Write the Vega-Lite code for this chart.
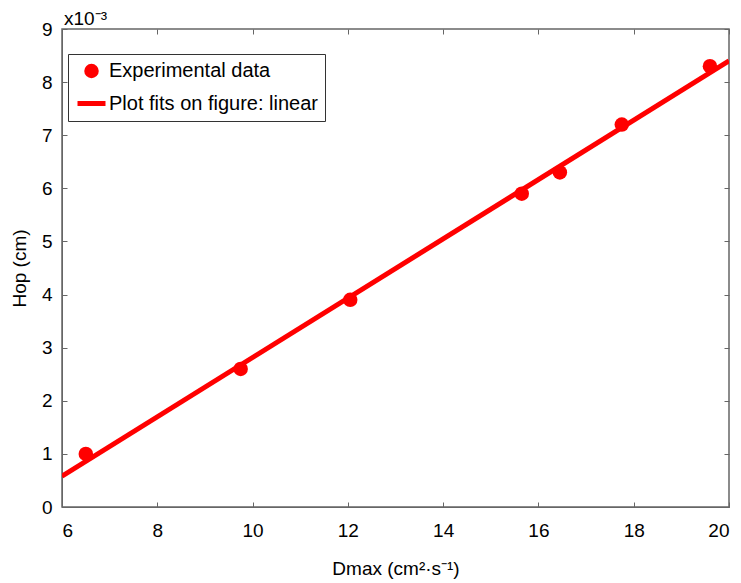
{
  "$schema": "https://vega.github.io/schema/vega-lite/v6.json",
  "width": 667,
  "height": 478,
  "autosize": "none",
  "padding": {"left": 62, "top": 29, "right": 12, "bottom": 76},
  "background": "white",
  "config": {
    "font": "Liberation Sans",
    "view": {"stroke": "#666666", "strokeWidth": 1.5},
    "axis": {
      "grid": false,
      "domainColor": "#666666",
      "tickColor": "#666666",
      "tickSize": -5,
      "labelFontSize": 19,
      "labelColor": "black",
      "titleFontSize": 19,
      "titleFontWeight": "normal",
      "titleColor": "black",
      "labelFont": "Liberation Sans",
      "titleFont": "Liberation Sans"
    }
  },
  "title": {
    "text": "x10⁻³",
    "anchor": "start",
    "frame": "group",
    "fontSize": 19,
    "fontWeight": "normal",
    "font": "Liberation Sans",
    "offset": 0,
    "dy": 9,
    "dx": 2
  },
  "datasets": {
    "pts": [
      {"dmax": 6.5, "hop": 1.0, "series": "Experimental data"},
      {"dmax": 9.75, "hop": 2.6, "series": "Experimental data"},
      {"dmax": 12.05, "hop": 3.9, "series": "Experimental data"},
      {"dmax": 15.65, "hop": 5.9, "series": "Experimental data"},
      {"dmax": 16.45, "hop": 6.3, "series": "Experimental data"},
      {"dmax": 17.75, "hop": 7.2, "series": "Experimental data"},
      {"dmax": 19.6, "hop": 8.3, "series": "Experimental data"}
    ],
    "fit": [
      {"dmax": 6, "hop": 0.58, "series": "Plot fits on figure: linear"},
      {"dmax": 20, "hop": 8.4, "series": "Plot fits on figure: linear"}
    ]
  },
  "layer": [
    {
      "data": {"name": "fit"},
      "mark": {"type": "line", "color": "#ff0000", "strokeWidth": 5, "clip": true},
      "encoding": {
        "x": {"field": "dmax", "type": "quantitative", "scale": {"domain": [6, 20], "nice": false},
          "axis": {"title": "Dmax (cm²·s⁻¹)", "values": [6, 8, 10, 12, 14, 16, 18, 20], "labelPadding": 19, "titlePadding": 19}},
        "y": {"field": "hop", "type": "quantitative", "scale": {"domain": [0, 9], "nice": false},
          "axis": {"title": "Hop (cm)", "values": [0, 1, 2, 3, 4, 5, 6, 7, 8, 9], "labelPadding": 15, "titlePadding": 12}}
      }
    },
    {
      "data": {"name": "pts"},
      "mark": {"type": "point", "filled": false, "fill": "#ff0000", "stroke": "#ff0000", "opacity": 1, "fillOpacity": 1, "strokeOpacity": 1},
      "encoding": {
        "x": {"field": "dmax", "type": "quantitative",
          "axis": {"orient": "top", "labels": false, "title": null, "values": [6, 8, 10, 12, 14, 16, 18, 20], "domain": false}},
        "y": {"field": "hop", "type": "quantitative",
          "axis": {"orient": "right", "labels": false, "title": null, "values": [0, 1, 2, 3, 4, 5, 6, 7, 8, 9], "domain": false}},
        "size": {
          "field": "series",
          "type": "nominal",
          "scale": {"domain": ["Experimental data", "Plot fits on figure: linear"], "range": [210, 784]},
          "legend": {"title": null}
        },
        "strokeWidth": {
          "field": "series",
          "type": "nominal",
          "scale": {"domain": ["Experimental data", "Plot fits on figure: linear"], "range": [0, 5]},
          "legend": {"title": null}
        },
        "shape": {
          "field": "series",
          "type": "nominal",
          "scale": {"domain": ["Experimental data", "Plot fits on figure: linear"], "range": ["circle", "stroke"]},
          "legend": {
            "title": null,
            "orient": "none",
            "legendX": 6,
            "legendY": 25,
            "direction": "vertical",
            "labelFontSize": 20,
            "labelFont": "Liberation Sans",
            "labelColor": "black",
            "symbolOpacity": 1,
            "rowPadding": 6,
            "strokeColor": "#333333",
            "fillColor": "white",
            "padding": 7,
            "labelOffset": 1,
            "labelLimit": 400
          }
        }
      }
    }
  ],
  "resolve": {"axis": {"x": "independent", "y": "independent"}}
}
